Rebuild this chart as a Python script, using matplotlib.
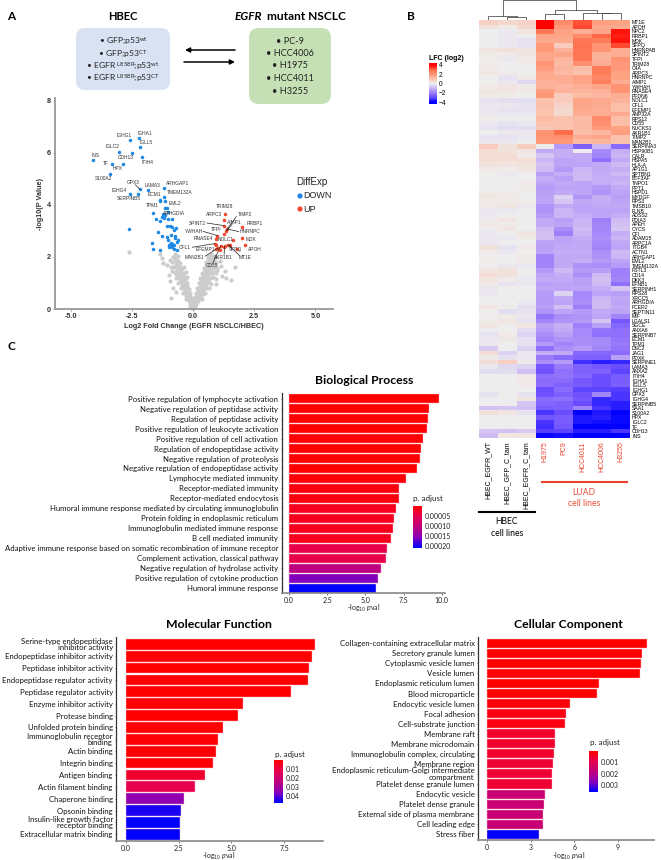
import numpy as np
import matplotlib
matplotlib.use("Agg")
import matplotlib.pyplot as plt
from matplotlib.colors import LinearSegmentedColormap, Normalize
from matplotlib.patches import FancyBboxPatch

plt.rcParams['font.family'] = ['Lato', 'DejaVu Sans']
plt.rcParams['mathtext.fontset'] = 'custom'
plt.rcParams['mathtext.rm'] = 'Lato'
plt.rcParams['mathtext.it'] = 'Lato:italic'
plt.rcParams['mathtext.bf'] = 'Lato:bold'

## DATA: volcano
down_x = [-2.22, -2.57, -2.18, -3.02, -2.51, -2.10, -4.09, -3.31, -2.85, -3.41, -2.18, -1.83, -1.2, -2.59, -2.26,
          -1.2, -1.35, -1.35, -1.13, -1.16, -1.08, -1.02, -1.63, -1.23, -1.13, -1.28, -1.2, -1.02, -0.84, -1.53,
          -1.34, -1.06, -0.95, -0.86, -0.71, -0.78, -2.63, -1.42, -1.25, -0.91, -0.75, -0.72, -1.05, -1.02, -0.61,
          -0.64, -1.68, -0.91, -0.87, -0.98, -0.79, -0.84, -0.98, -0.78, -0.64, -1.64, -1.36, -0.93]
down_y = [6.57, 6.47, 6.21, 6.04, 5.99, 5.83, 5.71, 5.57, 5.57, 5.2, 4.6, 4.57, 4.66, 4.42, 4.42,
          4.3, 4.2, 4.16, 4.15, 3.88, 3.88, 3.73, 3.67, 3.65, 3.6, 3.55, 3.5, 3.47, 3.47, 3.47,
          3.37, 3.19, 3.18, 3.15, 3.11, 3.05, 3.06, 2.96, 2.82, 2.84, 2.82, 2.73, 2.75, 2.66, 2.64,
          2.58, 2.54, 2.54, 2.5, 2.44, 2.47, 2.37, 2.37, 2.32, 2.25, 2.31, 2.28, 2.4]
up_x = [1.31, 1.25, 1.27, 1.99, 1.40, 1.36, 1.27, 0.99, 0.95, 2.01, 2.12, 0.89, 0.95, 1.13, 1.02, 1.09, 0.95, 1.29,
        1.43, 1.63, 1.81, 1.5, 1.27]
up_y = [3.66, 3.41, 3.2, 3.14, 3.07, 3.0, 2.88, 2.82, 2.69, 2.72, 2.46, 2.51, 2.47, 2.43, 2.34, 2.28, 2.3, 2.4,
        2.47, 2.64, 2.32, 2.44, 2.37]
ns_x = [-0.05, -0.02, 0.02, 0.05, -0.11, -0.05, 0.01, 0.06, 0.1, -0.13, -0.07, -0.03, 0.03, 0.09, 0.14,
        -0.18, -0.12, -0.06, 0.07, 0.11, 0.19, -0.23, -0.15, -0.1, -0.04, 0.04, 0.1, 0.17, 0.22,
        -0.27, -0.21, -0.13, 0.14, 0.2, 0.28, -0.32, -0.24, -0.17, 0.16, 0.25, 0.31, 0.37,
        -0.34, -0.28, -0.2, 0.2, 0.27, 0.35, 0.41, -0.39, -0.31, -0.24, 0.23, 0.3, 0.36, 0.45,
        -0.43, -0.35, -0.26, 0.27, 0.33, 0.41, 0.48, -0.47, -0.38, -0.31, 0.3, 0.37, 0.45, 0.53,
        -0.5, -0.43, -0.34, 0.33, 0.41, 0.47, 0.56, -0.56, -0.46, -0.38, 0.36, 0.43, 0.51, 0.59,
        -0.58, -0.51, -0.42, 0.4, 0.46, 0.55, 0.62, -0.61, -0.53, -0.45, 0.44, 0.5, 0.58, 0.64,
        -0.66, -0.56, -0.48, 0.47, 0.54, 0.61, 0.69, -0.64, -0.55, 0.52, 0.58, 0.65, 0.71,
        -0.71, -0.6, 0.55, 0.63, 0.68, 0.75, -0.68, 0.6, 0.66, 0.73, -0.72, 0.64, 0.7, 0.79,
        -0.82, 0.68, 0.76, -0.75, 0.72, 0.85,
        -2.6, -1.36, -1.27, -1.22, -1.05, -0.95, -1.0, -0.9, -0.85, -0.89, -0.82, -0.95, -0.7, -0.65,
        1.7, 1.36, 1.57, 1.3, 1.16, 1.09, 0.95, 0.93, 1.0, 1.2,
        -0.8, -0.72, -0.45, -0.38, 0.76, 0.83, 0.9, 0.97, 0.45, -0.75, -0.68, -0.38, -0.3, 0.7, 0.77, 0.85, 0.92, 0.38,
        -0.68, -0.62, -0.3, -0.25, 0.65, 0.72, 0.8, 0.3, -0.6, -0.55, -0.23, 0.58, 0.65, 0.72, 0.24,
        -0.48, -0.18, 0.5, 0.57, 0.64, 0.18, -0.4, -0.11, 0.42, 0.5, 0.11, -0.3, 0.3, 0.36,
        -0.85, -0.6, -0.52, 0.8, 0.88, 0.95, 0.55, -0.7, -0.6, 0.85, 0.92, 0.6, 0.62]
ns_y = [0.05, 0.06, 0.05, 0.06, 0.12, 0.13, 0.1, 0.14, 0.12, 0.2, 0.21, 0.19, 0.2, 0.22, 0.19,
        0.3, 0.29, 0.31, 0.32, 0.28, 0.3, 0.41, 0.38, 0.4, 0.42, 0.39, 0.41, 0.38, 0.4,
        0.5, 0.52, 0.49, 0.5, 0.52, 0.49, 0.6, 0.62, 0.58, 0.6, 0.61, 0.58, 0.62,
        0.7, 0.72, 0.69, 0.71, 0.68, 0.7, 0.73, 0.81, 0.78, 0.8, 0.82, 0.79, 0.8, 0.83,
        0.9, 0.92, 0.89, 0.9, 0.93, 0.88, 0.91, 1.0, 1.02, 0.98, 1.0, 1.03, 0.99, 1.01,
        1.1, 1.12, 1.09, 1.11, 1.08, 1.1, 1.13, 1.2, 1.22, 1.19, 1.2, 1.23, 1.18, 1.21,
        1.3, 1.33, 1.29, 1.3, 1.28, 1.32, 1.31, 1.4, 1.42, 1.38, 1.41, 1.39, 1.43, 1.4,
        1.5, 1.52, 1.49, 1.5, 1.53, 1.48, 1.51, 1.6, 1.62, 1.61, 1.58, 1.6, 1.63,
        1.7, 1.72, 1.69, 1.72, 1.68, 1.71, 1.8, 1.82, 1.79, 1.81, 1.9, 1.91, 1.88, 1.9,
        2.0, 2.02, 1.99, 2.12, 2.1, 1.97,
        2.2, 2.11, 1.96, 1.77, 1.7, 1.9, 1.3, 1.6, 1.45, 0.42, 0.8, 1.06, 0.65, 1.3,
        1.6, 1.2, 1.13, 1.45, 1.64, 1.86, 1.15, 0.95, 1.5, 1.28,
        1.6, 1.63, 1.58, 1.62, 1.6, 1.56, 1.63, 1.59, 1.57, 1.4, 1.43, 1.38, 1.41, 1.4, 1.37, 1.42, 1.39, 1.38,
        1.2, 1.23, 1.18, 1.21, 1.2, 1.18, 1.22, 1.19, 1.0, 1.03, 0.98, 1.0, 1.02, 0.97, 1.01,
        0.8, 0.78, 0.82, 0.79, 0.81, 0.8, 0.6, 0.62, 0.58, 0.61, 0.6, 0.4, 0.42, 0.38,
        1.8, 1.83, 1.78, 1.8, 1.82, 1.77, 1.79, 2.0, 2.03, 2.02, 1.98, 1.97, 2.05]
gene_names = ['IGHA1', 'IGHG1', 'IGLL5', 'IGLC2', 'CDH13', 'ITIH4', 'INS', 'TF', 'HPX', 'S100A2', 'GPX3', 'LAMA3',
              'ARHGAP1', 'ECM1', 'TMEM132A', 'IGHG4', 'SERPINB5', 'EML2', 'TPM1', 'ARHGDIA', 'TRIM28', 'ARPC3',
              'TIMP2', 'SPINT2', 'AIMP1', 'RRBP1', 'TFPI', 'YWHAH', 'HNRNPC', 'RNASE4', 'NOLC1', 'MDK', 'CFL1',
              'EFEMP1', 'SFPQ', 'APOH', 'MAN2B1', 'AKR1B1', 'MT1E', 'CD55']
gene_x = [-1.99, -2.81, -1.93, -3.27, -2.74, -1.85, -3.99, -3.57, -3.07, -3.65, -2.45, -1.66,
          -0.65, -1.59, -0.54, -3.04, -2.62, -0.74, -1.66, -0.79, 1.27, 0.84,
          2.11, 0.18, 1.7, 2.52, 0.95, 0.03, 2.32, 0.44, 1.34, 2.37, -0.34,
          0.52, 1.74, 2.52, 0.07, 1.25, 2.13, 0.79]
gene_y = [6.73, 6.65, 6.38, 6.22, 5.81, 5.63, 5.89, 5.57, 5.38, 5.01, 4.85, 4.75,
          4.83, 4.39, 4.48, 4.55, 4.24, 4.06, 3.98, 3.66, 3.92, 3.62,
          3.62, 3.3, 3.32, 3.27, 3.05, 2.98, 2.96, 2.69, 2.66, 2.65, 2.37,
          2.3, 2.3, 2.3, 1.98, 1.98, 1.98, 1.68]
link_x0 = [-2.36, 1.77, 0.57, 1.59, 0.41, 1.87, -0.03, 0.5, 1.27, 1.9, 1.6, 0.82]
link_y0 = [4.77, 3.55, 3.3, 3.24, 2.98, 2.97, 2.37, 2.03, 2.1, 2.05, 2.33, 1.78]
link_x1 = [-2.18, 1.40, 1.27, 1.36, 0.99, 1.40, 0.89, 1.02, 1.29, 1.43, 1.5, 1.13]
link_y1 = [4.6, 3.07, 3.2, 3.0, 2.82, 3.07, 2.51, 2.34, 2.4, 2.47, 2.44, 2.43]
volcano_xticks = [-5.0, -2.5, 0.0, 2.5, 5.0]
volcano_yticks = [0, 2, 4, 6, 8]

## DATA: heatmap
heat_cols = ['HBEC_EGFR_WT', 'HBEC_GFP_C_tam', 'HBEC_EGFR_C_tam', 'H1975', 'PC9', 'HCC4011', 'HCC4006', 'H3255']
heat_genes = ['MT1E', 'APOH', 'NPC2', 'RRBP1', 'MDK', 'SFPQ', 'HNRNPAB', 'SPINT2', 'TFPI', 'TRIM28', 'C4A', 'ARPC3',
              'HNRNPC', 'AIMP1', 'YWHAH', 'RNASE4', 'PFDN6', 'NOLC1', 'CFL1', 'EFEMP1', 'ANP32A', 'RPS12', 'CD55',
              'NUCKS1', 'AKR1B1', 'TIMP2', 'MAN2B1', 'SERPINA3', 'HSP90B1', 'CALR', 'HSPA5', 'HLA-A', 'AP1G1',
              'SPTBN1', 'BTF3AF', 'TNPO1', 'PPT1', 'HSPD1', 'MYDGF', 'RPS3', 'TMSB10', 'FLNB', 'ADSS2', 'PDIA3',
              'APEH', 'CYCS', 'CFI', 'ADAM15', 'ARPC1A', 'ITGB4', 'ACTN1', 'ARHGAP1', 'EML2', 'TMEM132A', 'FSTL3',
              'CD14', 'DKK3', 'EFNB1', 'SERPINH1', 'RPS28', 'XRCC5', 'ARHGDIA', 'FCER2', 'SEPTIN11', 'MIF', 'LGALS1',
              'SGCE', 'ANXA6', 'SERPINB7', 'ECM1', 'TPM1', 'DSC2', 'JAG1', 'PDXK', 'SERPINE1', 'LAMA3', 'ANXA2',
              'ITIH4', 'IGHA1', 'IGLL5', 'IGHG1', 'GPX3', 'IGHG4', 'SERPINB5', 'SAA1', 'S100A2', 'HPX', 'IGLC2',
              'TF', 'CDH13', 'INS']
lfc = [
    [.7, .5, .6, 4, 2.3, 3.2, 1.9, 1.8], [.3, .1, .5, 4, 2, 3.3, 1.6, 1.6], [0, -.1, .2, 2.7, 1.8, 1.5, 1.7, 3.8],
    [0, -.1, 0, 1.7, 1.7, 2.3, 3, 3.7], [0, -.1, -.2, 1.6, 1.6, 2.7, 2.6, 3.8], [0, -.1, -.2, 2, .8, 2.8, 2.1, 3.3],
    [.2, .3, .2, 2, 1.4, 2.7, 2.1, 1.5], [.1, .1, .2, 1.7, 1.7, 2.7, 1.4, 1.5], [0, -.1, .1, 1.7, 1.3, 2.7, 1.4, 2.1],
    [.1, 0, .1, 2.1, 1.2, 2.2, 1.5, 2], [.1, 0, 0, 1.9, 1.3, 1.1, 2.6, 2], [.2, .1, 0, 1.6, 1.2, 1, 2.6, 1.8],
    [0, -.2, .1, 1.6, 1.5, 1.8, 2.4, 1.8], [0, -.1, -.4, 1.4, 1.5, 1.7, 2.5, 1.5], [.1, .2, .1, 1.4, 1.3, 1.5, 1.7, 2.1],
    [.2, .2, .1, 1.9, 1.4, 1.3, 1.4, 2.1], [.1, .1, 0, 2, .8, 1.2, 1.3, 1.5], [-.2, -.3, -.3, 1, .8, 1.7, 1.6, 1.4],
    [-.1, -.1, -.2, 1.1, .6, 1.7, 1.6, 1.1], [-.1, -.2, -.2, 1, .5, 1.6, 1.5, 1.1], [-.1, -.1, -.1, 1, .5, 1.5, 1.5, 1.6],
    [.1, 0, 0, 1.2, 1, 1.2, 2.3, 1.1], [-.1, -.2, -.1, 1, 1, 1.2, 2.2, 1.1], [-.2, -.3, -.3, .9, 1, 1.2, 2, 1.8],
    [0, -.1, -.1, 2.1, 2.9, 1.1, 1.3, 1.9], [-.2, -.2, -.1, 2.1, 2.2, 1.5, 1.7, 1], [-.1, -.1, 0, 2, 2, 1.2, 1.3, 1],
    [.8, .3, .7, .05, -1.5, -2.6, -1, -2.4], [.4, .3, .2, -1.2, -1.1, 0, -1.8, -1.1], [.4, .4, .1, -.7, -1.1, -1.2, -1.9, -1],
    [.4, .4, .4, -1, -1.3, -1.2, -2.3, -1.2], [.3, .2, .3, -.8, -1.3, -1.3, -1.2, -.9], [.1, .1, .2, -.9, -1.5, -1, -1.2, -1.1],
    [0, -.1, 0, -1.4, -1.1, -.9, -1.1, -.9], [0, 0, 0, -1.1, -1.4, -.9, -1.1, -1.1], [0, 0, .1, -1.3, -1.2, -1.3, -1.1, -1],
    [0, 0, .1, -1.5, -1.3, -1.3, -1.5, -1.2], [.1, .1, .05, -1.4, -1.2, -1.3, -1.6, -1.3], [.2, .1, 0, -1.3, -.5, -1.6, -1.1, -1.4],
    [.1, .1, .1, -1.3, -.7, -1.2, -1.1, -1.3], [.1, .2, -.1, -1.6, -1.2, -1.3, -1.2, -1.2], [-.1, -.1, 0, -1.6, -1, -1.3, -1.3, -1.3],
    [-.1, 0, 0, -1.5, -1, -1.1, -1.3, -1.1], [.1, .2, 0, -1.2, -1.4, -1, -2, -.9], [.1, .1, 0, -1.2, -1.3, -1, -1.9, -.8],
    [0, .2, 0, -.9, -1.7, -.9, -1.9, -.7], [-.1, 0, .2, -.8, -2, -1, -1.8, -1.1], [-.1, -.1, .1, -.8, -1.3, -1.1, -1.7, -1],
    [-.1, 0, 0, -1.3, -1.3, -1.2, -1.8, -1.2], [.3, -.2, .1, -1.4, -1.2, -1.2, -1.9, -1.3], [.1, -.1, 0, -1.3, -1.1, -1.1, -1.7, -.9],
    [0, 0, .1, -1.9, -1.2, -1.2, -1.6, -1], [.1, 0, .1, -1.9, -1.2, -1.1, -1.5, -1.3], [0, -.1, -.1, -1.9, -1.2, -1.6, -1.7, -1.5],
    [.2, .3, 0, -1.5, -.9, -1.5, -1.4, -2], [.4, .3, 0, -1.3, -1.1, -1.7, -.9, -2], [.2, .1, -.1, -1.2, -1.2, -1.4, -.8, -1.9],
    [.1, -.2, -.1, -1.4, -1.3, -1.4, -.9, -2.3], [-.1, 0, 0, -1.3, -1.3, -1.3, -1.1, -.7], [-.1, 0, 0, -1.5, -.5, -1.8, -1.3, -1.4],
    [0, .05, 0, -1.5, -1.2, -1.8, -1, -1.2], [0, 0, -.1, -1.5, -1.3, -1.7, -.9, -1.3], [.2, .05, -.3, -1.4, -.8, -2, -.9, -1.2],
    [0, -.3, -.2, -1.6, -1.3, -1.5, -1.2, -1.3], [.05, .1, -.1, -2.2, -1.7, -1.6, -1.3, -1.9], [.1, .2, -.2, -1.9, -1.6, -1.5, -.7, -2.8],
    [.2, .05, .2, -1.4, -1.1, -2, -1.4, -2.5], [0, 0, -.3, -1.5, -1.2, -1.8, -2.2, -2.3], [-.2, .1, -.5, -1.7, -1.4, -1.8, -2.3, -2.3],
    [-.1, .15, -.2, -1.9, -1.6, -1.7, -1.8, -2.2], [-.1, 0, -.2, -1.5, -1.9, -1.7, -1.8, -2.1], [-.6, 0, -.5, -2.3, -1.7, -1.5, -1.9, -2.2],
    [.4, -.5, -.1, -1.1, -1.2, -2.5, -2.5, -2.4], [.1, -.2, -.1, -2.1, -2.4, -2.6, -2.6, -1.4], [.4, .7, .1, -1.7, -1.5, -3.4, -3.6, -3.5],
    [-.1, -.4, -.5, -2.8, -2.1, -2.6, -2.8, -3], [-.3, -.3, -.8, -2.9, -2.3, -2.6, -2.6, -3.1], [0, 0, .1, -2.3, -2.2, -2.5, -3, -2.7],
    [0, 0, .1, -2.4, -2.4, -2.8, -3, -2.7], [0, 0, .1, -2.4, -2.6, -2.7, -3, -2.6], [0, 0, 0, -3, -2.4, -3.1, -3.1, -3.2],
    [-.2, 0, -.2, -2.9, -2.6, -2.9, -1.9, -3.3], [0, 0, .2, -2.4, -2.3, -2.8, -3.5, -3.3], [0, 0, -.7, -2.5, -2.6, -3, -3.5, -3.6],
    [-.8, -.7, -.8, -2.7, -2.6, -1.9, -3.3, -3.6], [.3, .2, -.2, -3.3, -3, -4, -3.7, -4], [0, 0, 0, -2.8, -2.7, -3.7, -3.6, -3.9],
    [0, 0, 0, -3.3, -2.7, -3.7, -3.8, -3.9], [0, 0, 0, -3.4, -2.8, -4, -4, -4], [-.7, -.8, -.6, -3.2, -3.1, -3.6, -3.6, -3.3],
    [-.9, .2, .2, -3.9, -3.8, -4, -4, -4],
]
# merges of the column tree: left x, left height, right x, right height, merge height
dendro = [(1.5, 0, 2.5, 0, 0.55), (0.5, 0, 2.0, 0.55, 0.6), (3.5, 0, 4.5, 0, 1.05), (6.5, 0, 7.5, 0, 1.2),
          (5.5, 0, 7.0, 1.2, 1.22), (4.0, 1.05, 6.25, 1.22, 1.6), (1.25, 0.6, 5.12, 1.6, 3.25)]

## DATA: enrichment bars
bp_terms = ['Positive regulation of lymphocyte activation', 'Negative regulation of peptidase activity',
            'Regulation of peptidase activity', 'Positive regulation of leukocyte activation',
            'Positive regulation of cell activation', 'Regulation of endopeptidase activity',
            'Negative regulation of proteolysis', 'Negative regulation of endopeptidase activity',
            'Lymphocyte mediated immunity', 'Receptor-mediated immunity', 'Receptor-mediated endocytosis',
            'Humoral immune response mediated by circulating immunoglobulin',
            'Protein folding in endoplasmic reticulum', 'Immunoglobulin mediated immune response',
            'B cell mediated immunity',
            'Adaptive immune response based on somatic recombination of immune receptor',
            'Complement activation, classical pathway', 'Negative regulation of hydrolase activity',
            'Positive regulation of cytokine production', 'Humoral immune response']
bp_vals = [9.8, 9.19, 9.13, 9.02, 8.8, 8.62, 8.58, 8.38, 7.66, 7.23, 7.2, 6.99, 6.86, 6.79, 6.66, 6.4, 6.38, 6.0, 5.81, 5.7]
bp_padj = [0, 0, 0, 0, 0, 0, 0, 0, 0.000005, 0.00001, 0.00001, 0.00002, 0.00002, 0.00002, 0.00002,
           0.00005, 0.00005, 0.00011, 0.00016, 0.00021]
mf_terms = ['Serine-type endopeptidase\ninhibitor activity', 'Endopeptidase inhibitor activity',
            'Peptidase inhibitor activity', 'Endopeptidase regulator activity', 'Peptidase regulator activity',
            'Enzyme inhibitor activity', 'Protease binding', 'Unfolded protein binding',
            'Immunoglobulin receptor\nbinding', 'Actin binding', 'Integrin binding', 'Antigen binding',
            'Actin filament binding', 'Chaperone binding', 'Opsonin binding',
            'Insulin-like growth factor\nreceptor binding', 'Extracellular matrix binding']
mf_vals = [8.93, 8.82, 8.68, 8.6, 7.8, 5.56, 5.33, 4.62, 4.35, 4.27, 4.13, 3.77, 3.29, 2.77, 2.63, 2.57, 2.57]
mf_padj = [0, 0, 0, 0, 0, 0, 0, 0, 0.001, 0.001, 0.001, 0.007, 0.012, 0.034, 0.045, 0.0474, 0.0474]
cc_terms = ['Collagen-containing extracellular matrix', 'Secretory granule lumen', 'Cytoplasmic vesicle lumen',
            'Vesicle lumen', 'Endoplasmic reticulum lumen', 'Blood microparticle', 'Endocytic vesicle lumen',
            'Focal adhesion', 'Cell-substrate junction', 'Membrane raft', 'Membrane microdomain',
            'Immunoglobulin complex, circulating', 'Membrane region',
            'Endoplasmic reticulum-Golgi intermediate\ncompartment', 'Platelet dense granule lumen',
            'Endocytic vesicle', 'Platelet dense granule', 'External side of plasma membrane', 'Cell leading edge',
            'Stress fiber']
cc_vals = [10.98, 10.66, 10.59, 10.54, 7.73, 7.55, 5.71, 5.46, 5.39, 4.67, 4.65, 4.58, 4.53, 4.49, 4.47, 3.98, 3.94, 3.87, 3.82, 3.55]
cc_padj = [0, 0, 0, 0, 0, 0, 0.0001, 0.0002, 0.0002, 0.0005, 0.0005, 0.0005, 0.0006, 0.0006, 0.0006, 0.0016, 0.0016, 0.0016, 0.0016, 0.00355]

W, H = 661, 860
fig = plt.figure(figsize=(W / 100, H / 100), dpi=100)


def ax_px(l, t, r, b):
    return fig.add_axes([l / W, 1 - b / H, (r - l) / W, (b - t) / H])


bg = ax_px(0, 0, W, H)
bg.set_xlim(0, W)
bg.set_ylim(H, 0)
bg.axis('off')
bg.set_zorder(10)

padj_cmap = LinearSegmentedColormap.from_list('padj', ['#ff0000', '#e6004f', '#c1007c', '#8a00b8', '#0000ff'])
lfc_cmap = LinearSegmentedColormap.from_list('lfc', ['#0000ff', '#6a4eff', '#9f80fb', '#cbb5f5', '#eeeeee',
                                                     '#fbc3b0', '#ff9a7a', '#ff6a48', '#ff0000'])

## PANEL A
bg.text(11, 17, 'A', fontsize=8.5, fontweight='bold', ha='center', va='center')
bg.text(123, 17, 'HBEC', fontsize=8, fontweight='bold', ha='center', va='center')
bg.text(235, 17, 'EGFR', fontsize=8.5, fontweight='bold', fontstyle='italic', ha='left', va='center')
bg.text(346, 17, 'mutant NSCLC', fontsize=8.6, fontweight='bold', ha='right', va='center')
bg.add_patch(FancyBboxPatch((83, 35), 80, 48, boxstyle='round,pad=7,rounding_size=9', fc='#d9e2f3', ec='none'))
bg.add_patch(FancyBboxPatch((256, 35), 68, 62, boxstyle='round,pad=7,rounding_size=10', fc='#c5e0b4', ec='none'))
hbec_lines = ['• GFP;p53$^{\\mathrm{wt}}$', '• GFP;p53$^{\\mathrm{CT}}$', '• EGFR $^{\\mathrm{L858R}}$;p53$^{\\mathrm{wt}}$',
              '• EGFR $^{\\mathrm{L858R}}$;p53$^{\\mathrm{CT}}$']
for txt, yy in zip(hbec_lines, [41, 54, 66, 78]):
    bg.text(123, yy, txt, fontsize=6.1, ha='center', va='center', color='#222222')
for txt, yy in zip(['• PC-9', '• HCC4006', '• H1975', '• HCC4011', '• H3255'], [41, 54, 66, 78.5, 91]):
    bg.text(290, yy, txt, fontsize=6.6, ha='center', va='center', color='#222222')
bg.annotate('', xy=(185, 50), xytext=(235, 50), arrowprops=dict(arrowstyle='-|>', color='black', lw=1.1, shrinkA=0, shrinkB=0, mutation_scale=7))
bg.annotate('', xy=(235, 62), xytext=(184, 62), arrowprops=dict(arrowstyle='-|>', color='black', lw=1.1, shrinkA=0, shrinkB=0, mutation_scale=7))

vol = ax_px(55, 98, 333, 309)
vol.scatter(ns_x, ns_y, s=9, color='#cccccc', linewidths=0, clip_on=False)
vol.scatter(down_x, down_y, s=6.5, color='#1e88e5', linewidths=0)
vol.scatter(up_x, up_y, s=6.5, color='#f4482c', linewidths=0)
for x0, y0, x1, y1 in zip(link_x0, link_y0, link_x1, link_y1):
    vol.plot([x0, x1], [y0, y1], color='#222222', lw=0.5)
for name, gx, gy in zip(gene_names, gene_x, gene_y):
    vol.text(gx, gy, name, fontsize=3.5, family='Liberation Sans', color='#333333', ha='center', va='center')
vol.set_xlim(-5.64, 5.72)
vol.set_ylim(0, 8.1)
vol.set_xticks(volcano_xticks)
vol.set_xticklabels(['%.1f' % v for v in volcano_xticks], family='Liberation Sans', fontsize=5.2, fontweight='bold', color='#333333')
vol.set_yticks(volcano_yticks)
vol.set_yticklabels(volcano_yticks, family='Liberation Sans', fontsize=5.2, fontweight='bold', color='#333333')
vol.tick_params(length=1.5, width=0.5, pad=1.5, color='#777777')
for s in ['top', 'right']:
    vol.spines[s].set_visible(False)
for s in ['left', 'bottom']:
    vol.spines[s].set_color('#999999')
    vol.spines[s].set_linewidth(1.3)
vol.set_xlabel('Log2 Fold Change (EGFR NSCLC/HBEC)', family='Liberation Sans', fontsize=5.2, fontweight='bold', color='#333333', labelpad=2)
vol.set_ylabel('-log10(P Value)', family='Liberation Sans', fontsize=5.2, fontweight='bold', color='#333333', labelpad=2)
bg.text(296, 182, 'DiffExp', fontsize=7, family='Liberation Sans', ha='left', va='center', color='#222222')
bg.scatter([300, 300], [196, 209], s=14, color=['#1e88e5', '#f4482c'], linewidths=0)
bg.text(303, 196, 'DOWN', fontsize=6.5, family='Liberation Sans', ha='left', va='center', color='#222222')
bg.text(303, 209, 'UP', fontsize=6.5, family='Liberation Sans', ha='left', va='center', color='#222222')

## PANEL B
bg.text(411, 16, 'B', fontsize=8.5, fontweight='bold', ha='center', va='center')
hm = ax_px(479, 20, 630, 438)
hm.imshow(np.array(lfc), cmap=lfc_cmap, vmin=-4, vmax=4, aspect='auto', interpolation='nearest')
hm.set_xticks(range(len(heat_cols)))
hm.set_xticklabels(heat_cols, rotation=90, family='Liberation Sans', fontsize=5)
for lab, i in zip(hm.get_xticklabels(), range(len(heat_cols))):
    lab.set_color('black' if i < 3 else '#e8402a')
hm.set_yticks(range(len(heat_genes)))
hm.set_yticklabels(heat_genes, family='Liberation Sans', fontsize=3.7)
hm.yaxis.tick_right()
hm.tick_params(length=0, pad=1.5)
hm.tick_params(axis='x', pad=2.5)
for s in hm.spines.values():
    s.set_visible(False)

tree = ax_px(479, 0, 630, 20)
for xl, hl, xr, hr, hh in dendro:
    tree.plot([xl, xl, xr, xr], [hl, hh, hh, hr], color='#333333', lw=0.5)
tree.set_xlim(0, 8)
tree.set_ylim(0, 3.3)
tree.axis('off')

cb = ax_px(429, 63, 437, 104)
cb.imshow(np.linspace(4.4, -4.4, 100)[:, None], cmap=lfc_cmap, vmin=-4, vmax=4, aspect='auto', extent=[0, 1, -4.4, 4.4])
cb.set_xticks([])
cb.set_yticks([4, 2, 0, -2, -4])
cb.set_yticklabels(['4', '2', '0', '\u22122', '\u22124'], family='Liberation Sans', fontsize=4.8)
cb.yaxis.tick_right()
cb.tick_params(length=0, pad=1.5)
for s in cb.spines.values():
    s.set_visible(False)
bg.text(446, 58, 'LFC (log2)', fontsize=5, family='Liberation Sans', fontweight='bold', ha='center', va='center')

bg.plot([479, 534.7], [512, 512], color='black', lw=1.5)
bg.text(506.7, 522, 'HBEC', fontsize=6.2, ha='center', va='center')
bg.text(506.7, 533, 'cell lines', fontsize=6.2, ha='center', va='center')
bg.plot([541.7, 626.7], [482, 482], color='#e8402a', lw=1.5)
bg.text(584, 492.7, 'LUAD', fontsize=6.2, color='#e8503a', ha='center', va='center')
bg.text(584, 504, 'cell lines', fontsize=6.2, color='#e8503a', ha='center', va='center')

## PANEL C
bg.text(11, 347, 'C', fontsize=8.5, fontweight='bold', ha='center', va='center')


def barpanel(terms, vals, padj, vmax, box, x0_px, px_per_unit, first_px, step_px, xticks, xfmt):
    l, t, r, b = box
    ax = ax_px(l, t, r, b)
    cols = padj_cmap(Normalize(0, vmax)(padj))
    ax.barh(range(len(vals)), vals, height=0.9, color=cols, edgecolor='#ffc0c8', linewidth=0.3)
    ax.set_ylim((b - first_px) / step_px, (t - first_px) / step_px)
    ax.set_xlim((l - x0_px) / px_per_unit, (r - x0_px) / px_per_unit)
    ax.set_yticks(range(len(terms)))
    ax.set_yticklabels(terms, fontsize=5.6, color='#111111', linespacing=0.9, ha='right')
    ax.set_xticks(xticks)
    ax.set_xticklabels([xfmt % v for v in xticks], fontsize=5, color='#222222')
    ax.tick_params(axis='y', length=1, width=0.5, pad=1.5, color='#444444')
    ax.tick_params(axis='x', length=1.5, width=0.5, pad=1.5, color='#444444')
    ax.spines['top'].set_visible(False)
    ax.spines['right'].set_visible(False)
    ax.spines['left'].set_color('#333333')
    ax.spines['left'].set_linewidth(0.9)
    ax.spines['bottom'].set_color('#888888')
    ax.spines['bottom'].set_linewidth(1.2)
    return ax


def padjbar(box, vmax, ticks, fmt, title_xy):
    l, t, r, b = box
    ax = ax_px(l, t, r, b)
    ax.imshow(np.linspace(0, vmax, 100)[:, None], cmap=padj_cmap, vmin=0, vmax=vmax, aspect='auto', extent=[0, 1, vmax, 0])
    ax.set_xticks([])
    ax.set_yticks(ticks)
    ax.set_yticklabels([fmt % v for v in ticks], fontsize=5, color='#222222')
    ax.yaxis.tick_right()
    ax.tick_params(length=0, pad=2)
    for s in ax.spines.values():
        s.set_visible(False)
    bg.text(title_xy[0], title_xy[1], 'p. adjust', fontsize=5.8, color='#222222', ha='center', va='center')


barpanel(bp_terms, bp_vals, bp_padj, 0.00021, (281.7, 393, 445, 593), 289, 15.27, 398.7, 9.97, [0, 2.5, 5, 7.5, 10], '%.1f')
barpanel(mf_terms, mf_vals, mf_padj, 0.0474, (116.3, 637, 323, 841), 125.7, 21.15, 644.3, 11.875, [0, 2.5, 5, 7.5], '%.1f')
barpanel(cc_terms, cc_vals, cc_padj, 0.00355, (478, 637, 654, 840), 487.3, 14.5, 643.3, 10.05, [0, 3, 6, 9], '%d')
padjbar((413.3, 505.7, 421.7, 547.7), 0.00021, [0.00005, 0.0001, 0.00015, 0.0002], '%.5f', (428, 498))
padjbar((274, 760, 283, 802.7), 0.0474, [0.01, 0.02, 0.03, 0.04], '%.2f', (290, 755))
padjbar((589, 750.7, 597.7, 791.7), 0.00355, [0.001, 0.002, 0.003], '%.3f', (605, 743))

bg.text(364, 380, 'Biological Process', fontsize=8.8, fontweight='bold', ha='center', va='center')
bg.text(219, 624, 'Molecular Function', fontsize=8.8, fontweight='bold', ha='center', va='center')
bg.text(568.7, 625, 'Cellular Component', fontsize=8.8, fontweight='bold', ha='center', va='center')
for xx, yy in [(364, 608), (219, 856), (569, 856)]:
    bg.text(xx, yy, '-log$_{10}$ $\\it{p}$val', fontsize=5, color='#222222', ha='center', va='center')

fig.savefig('out.png', dpi=100, facecolor='white')
